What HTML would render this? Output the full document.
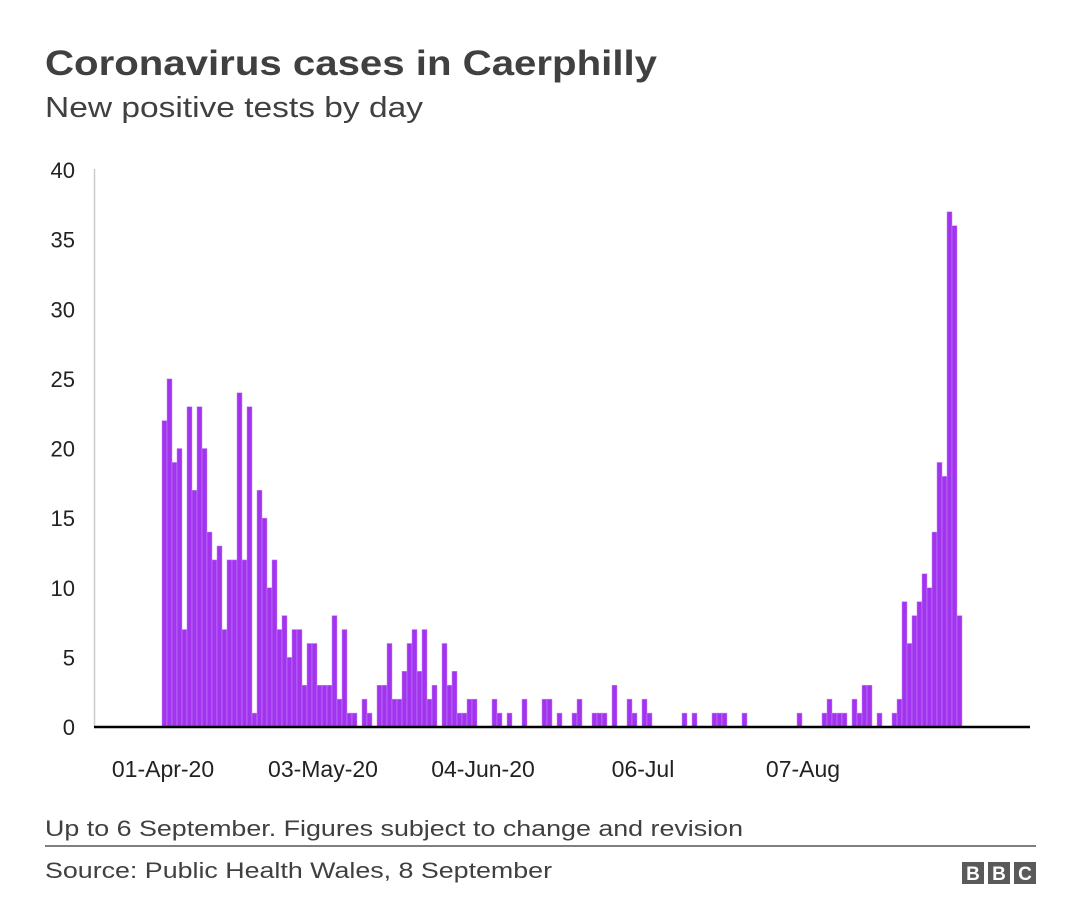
<!DOCTYPE html>
<html><head><meta charset="utf-8"><style>
html,body{margin:0;padding:0;background:#fff;}
svg{display:block;font-family:"Liberation Sans",Arial,sans-serif;}
</style></head><body>
<svg id="chart" width="1080" height="920" viewBox="0 0 1080 920">
<text x="45" y="75" font-size="35" font-weight="bold" fill="#404040" textLength="612" lengthAdjust="spacingAndGlyphs">Coronavirus cases in Caerphilly</text>
<text x="45" y="117" font-size="29" fill="#404040" textLength="378" lengthAdjust="spacingAndGlyphs">New positive tests by day</text>
<line x1="94.5" y1="169" x2="94.5" y2="727" stroke="#ccc" stroke-width="1.5"/>
<g id="yticks"></g>
<g id="bars"></g>
<line x1="94" y1="727" x2="1030" y2="727" stroke="#000" stroke-width="2.5"/>
<g id="xticks"></g>
<text x="45" y="836" font-size="22" fill="#404040" textLength="698" lengthAdjust="spacingAndGlyphs">Up to 6 September. Figures subject to change and revision</text>
<line x1="45" y1="846" x2="1036" y2="846" stroke="#555" stroke-width="1.5"/>
<text x="45" y="878" font-size="22" fill="#404040" textLength="507" lengthAdjust="spacingAndGlyphs">Source: Public Health Wales, 8 September</text>
<g>
<rect x="962" y="862" width="22" height="22" fill="#5a5a5a"/><text x="973" y="880" font-size="19" font-weight="bold" fill="#fff" text-anchor="middle">B</text>
<rect x="988" y="862" width="22" height="22" fill="#5a5a5a"/><text x="999" y="880" font-size="19" font-weight="bold" fill="#fff" text-anchor="middle">B</text>
<rect x="1014" y="862" width="22" height="22" fill="#5a5a5a"/><text x="1025" y="880" font-size="19" font-weight="bold" fill="#fff" text-anchor="middle">C</text>
</g>
</svg>
<script>
const early = [22,25,19,20,7,23,17,23,20,14,12,13,7,12,12,24,12,23,1,17,15,10,12,7,8,5,7,7,3,6,6,3,3,3,8,2,7,1,1];
const laterDays = [40,41,43,44,45,46,47,48,49,50,51,52,53,54,56,57,58,59,60,61,62,66,67,69,72,76,77,79,82,83,86,87,88,90,93,94,96,97,104,106,110,111,112,116,127,132,133,134,135,136,138,139,140,141,143,146,147,148,149,150,151,152,153,154,155,156,157,158,159];
const laterValues = [2,1,3,3,6,2,2,4,6,7,4,7,2,3,6,3,4,1,1,2,2,2,1,1,2,2,2,1,1,2,1,1,1,3,2,1,2,1,1,1,1,1,1,1,1,1,2,1,1,1,2,1,3,3,1,1,2,9,6,8,9,11,10,14,19,18,37,36,8];
const yTicks = [0,5,10,15,20,25,30,35,40];
const xTickLabels = ["01-Apr-20","03-May-20","04-Jun-20","06-Jul","07-Aug"];
const xTickDays = [0,32,64,96,128];
const NS="http://www.w3.org/2000/svg";
const nDays=160;
const values=new Array(nDays).fill(0);
early.forEach((v,i)=>values[i]=v);
laterDays.forEach((d,i)=>values[d]=laterValues[i]);
const x0=162, dayW=5, yBase=727, yTop=170, yMax=40;
const xs=d=>x0+d*dayW;
const ys=v=>yBase-(v/yMax)*(yBase-yTop);
const bars=document.getElementById('bars');
values.forEach((v,i)=>{ if(v<=0) return;
 const r=document.createElementNS(NS,'rect');
 r.setAttribute('x',xs(i)); r.setAttribute('y',ys(v));
 r.setAttribute('width',dayW); r.setAttribute('height',yBase-ys(v));
 r.setAttribute('fill','#a234f0'); r.setAttribute('stroke','#c88af5'); r.setAttribute('stroke-width','0.5');
 
 
 bars.appendChild(r);});
const yg=document.getElementById('yticks');
yTicks.forEach(t=>{const e=document.createElementNS(NS,'text');
 e.setAttribute('x',75); e.setAttribute('y',ys(t)+8); e.setAttribute('font-size','22');
 e.setAttribute('text-anchor','end'); e.setAttribute('fill','#222'); e.textContent=t;
 
 
 yg.appendChild(e);});
const xg=document.getElementById('xticks');
xTickLabels.forEach((l,i)=>{const e=document.createElementNS(NS,'text');
 e.setAttribute('x',xs(xTickDays[i])+1); e.setAttribute('y',777); e.setAttribute('font-size','23');
 e.setAttribute('text-anchor','middle'); e.setAttribute('fill','#222'); e.textContent=l;
 
 
 xg.appendChild(e);});
</script>
</body></html>
